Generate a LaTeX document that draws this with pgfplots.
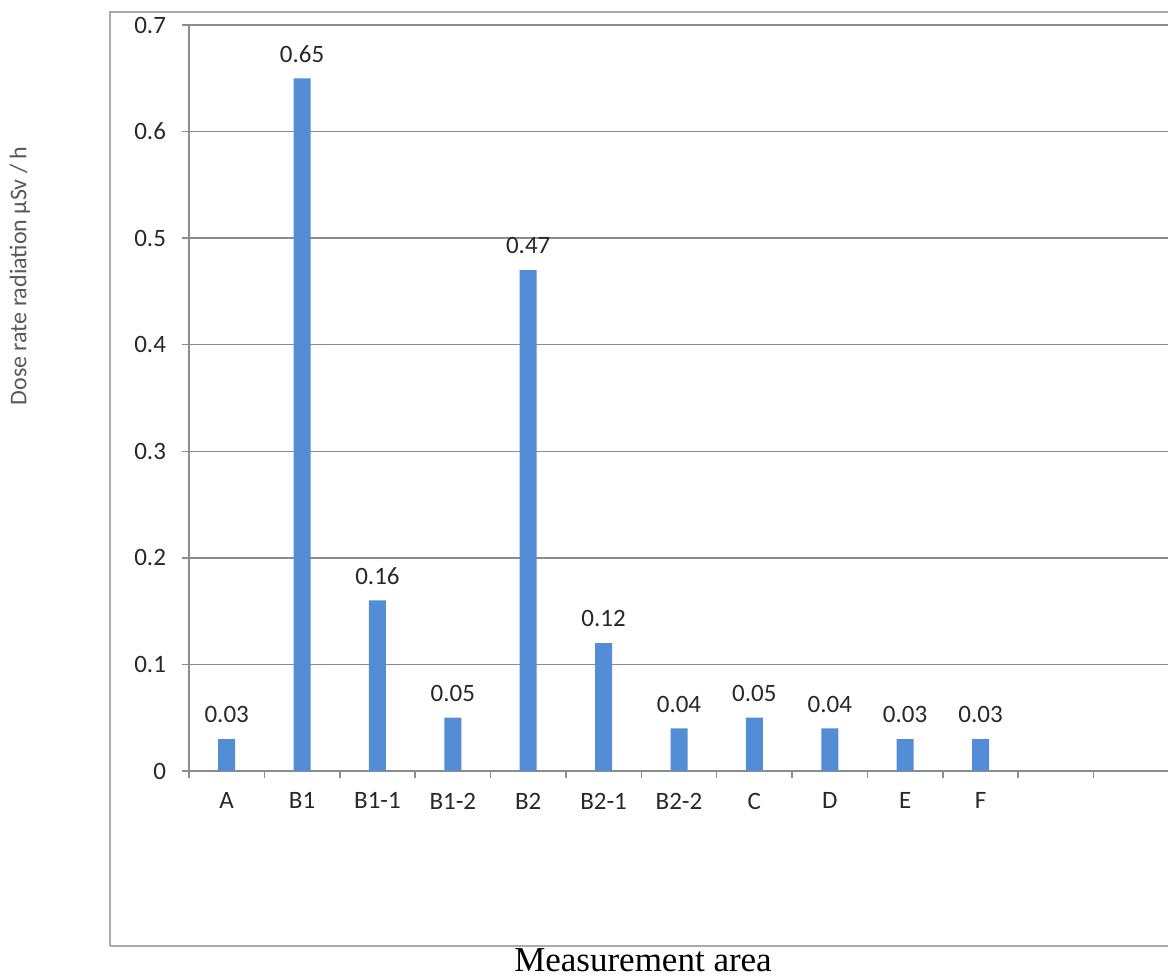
\documentclass[border=0pt]{standalone}
\usepackage{pgfplots}
\pgfplotsset{compat=1.18}
\usepackage{fontspec}
\setmainfont{Carlito}
\newfontfamily\timesfont{Liberation Serif}
\definecolor{barblue}{RGB}{83,141,213}
\definecolor{gridgray}{RGB}{140,140,140}
\definecolor{framegray}{RGB}{170,170,170}
\definecolor{labelgray}{RGB}{89,89,89}
\definecolor{ticktext}{RGB}{40,40,40}

\pgfplotstableread{
x y
0 0.03
1 0.65
2 0.16
3 0.05
4 0.47
5 0.12
6 0.04
7 0.05
8 0.04
9 0.03
10 0.03
}\doserate

\begin{document}
\begin{tikzpicture}
% page area
\path[use as bounding box] (0,0) rectangle (584pt,489pt);
% outer chart frame
\draw[framegray, line width=1pt] (55pt,16pt) -- (55pt,483pt) -- (600pt,483pt);
\draw[framegray, line width=1pt] (55pt,16pt) -- (600pt,16pt);

\begin{axis}[
  at={(94.5pt,103.5pt)}, anchor=south west,
  scale only axis, width=490pt, height=373pt,
  xmin=-0.5, xmax=12.5, ymin=0, ymax=0.7,
  axis x line*=bottom, axis y line*=left,
  axis line style={gridgray, line width=0.75pt, -},
  ytick={0,0.1,0.2,0.3,0.4,0.5,0.6,0.7},
  ymajorgrids, major grid style={gridgray, line width=0.75pt},
  xtick={-0.5,0.5,1.5,2.5,3.5,4.5,5.5,6.5,7.5,8.5,9.5,10.5,11.5,12.5},
  xticklabels={},
  extra x ticks={0,1,2,3,4,5,6,7,8,9,10},
  extra x tick labels={A,B1,B1-1,B1-2,B2,B2-1,B2-2,C,D,E,F},
  extra x tick style={major tick length=0pt, xticklabel style={yshift=-7.4pt}},
  tick align=outside,
  major tick length=3.5pt,
  tick style={gridgray, line width=0.75pt},
  /pgf/number format/assume math mode=true,
  tick label style={font=\fontsize{12.5}{14}\selectfont, text=ticktext},
  yticklabel style={xshift=-4.5pt},
  ybar, bar width=8.5pt,
  nodes near coords={\pgfmathprintnumber[fixed,fixed zerofill,precision=2]{\pgfplotspointmeta}},
  every node near coord/.append style={font=\fontsize{12.5}{14}\selectfont, text=ticktext, yshift=4.5pt},
]
\addplot[fill=barblue, draw=none] table[x=x,y=y] {\doserate};
\end{axis}

% axis titles
\node[rotate=90, text=labelgray, font=\fontsize{12}{14}\selectfont] at (10pt,351pt) {Dose rate radiation µSv / h};
\node[anchor=base, font=\timesfont\fontsize{17.5}{20}\selectfont] at (321.5pt,3pt) {Measurement area};
\end{tikzpicture}
\end{document}
